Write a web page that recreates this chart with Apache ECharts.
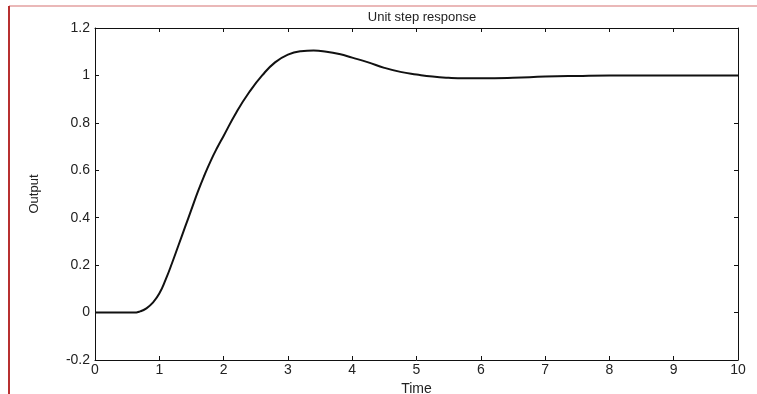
<!DOCTYPE html>
<html>
<head>
<meta charset="utf-8">
<style>
  html, body { margin: 0; padding: 0; background: #fff; }
  #chart { width: 757px; height: 394px; }
</style>
<script src="https://cdn.jsdelivr.net/npm/echarts@6/dist/echarts.min.js"></script>
</head>
<body>
<div id="chart"></div>
<script>
// step response
const times = [0, 0.25, 0.5, 0.6, 0.7, 0.8, 0.9, 1.0, 1.1, 1.2, 1.3, 1.4, 1.5, 1.6, 1.7, 1.8, 1.9, 2.0,
  2.2, 2.4, 2.6, 2.8, 3.0, 3.2, 3.4, 3.6, 3.8, 4.0, 4.25, 4.5, 4.75, 5.0, 5.25, 5.5, 5.75, 6.0,
  6.5, 7.0, 7.5, 8.0, 9.0, 10.0];
const output = [0, 0, 0, 0, 0.005, 0.018, 0.042, 0.08, 0.14, 0.21, 0.285, 0.36, 0.435, 0.51, 0.578, 0.64, 0.695, 0.745,
  0.845, 0.93, 1.0, 1.055, 1.088, 1.102, 1.105, 1.1, 1.09, 1.075, 1.055, 1.032, 1.015, 1.004, 0.995, 0.99, 0.988, 0.988,
  0.99, 0.995, 0.998, 1.0, 1.0, 1.0];

const titleText = "Unit step response";
const xName = "Time";
const yName = "Output";

const font = "Liberation Sans, Arial, sans-serif";
const ink = "#222";

const chart = echarts.init(document.getElementById("chart"), null, { renderer: "canvas" });

const boxAxis = {
  axisLine: { show: true, onZero: false, lineStyle: { color: "#111", width: 1 } },
  axisTick: { show: true, inside: true, length: 4, lineStyle: { color: "#111" } },
  splitLine: { show: false },
};

chart.setOption({
  backgroundColor: "#fff",
  animation: false,
  title: {
    text: titleText,
    left: 417,
    textAlign: "center",
    top: 6,
    textStyle: { fontFamily: font, fontSize: 13, fontWeight: "normal", color: ink },
  },
  grid: { left: 95, right: 19, top: 28, bottom: 34, outerBoundsMode: "none", containLabel: false },
  xAxis: [
    {
      ...boxAxis,
      type: "value",
      min: 0,
      max: 10,
      interval: 1,
      name: xName,
      nameLocation: "middle",
      nameGap: 18,
      nameTextStyle: { fontFamily: font, fontSize: 14, color: ink },
      axisLabel: { fontFamily: font, fontSize: 14, color: ink, margin: 3 },
    },
    {
      ...boxAxis,
      type: "value",
      position: "top",
      min: 0,
      max: 10,
      interval: 1,
      axisLabel: { show: false },
    },
  ],
  yAxis: [
    {
      ...boxAxis,
      type: "value",
      min: -0.2,
      max: 1.2,
      interval: 0.2,
      name: yName,
      nameLocation: "middle",
      nameGap: 54,
      nameTextStyle: { fontFamily: font, fontSize: 13, color: ink },
      axisLabel: {
        fontFamily: font, fontSize: 14, color: ink, margin: 5,
        formatter: (v) => String(+v.toFixed(1)),
      },
    },
    {
      ...boxAxis,
      type: "value",
      position: "right",
      min: -0.2,
      max: 1.2,
      interval: 0.2,
      axisLabel: { show: false },
    },
  ],
  series: [
    {
      type: "line",
      data: times.map((t, i) => [t, output[i]]),
      smooth: 0.5,
      showSymbol: false,
      lineStyle: { color: "#111", width: 2 },
    },
  ],
  graphic: [
    { type: "line", shape: { x1: 9, y1: 6, x2: 757, y2: 6 }, style: { stroke: "#e3a0a0", lineWidth: 1.5 } },
    { type: "line", shape: { x1: 9, y1: 6, x2: 9, y2: 394 }, style: { stroke: "#b83030", lineWidth: 2 } },
  ],
});
</script>
</body>
</html>
